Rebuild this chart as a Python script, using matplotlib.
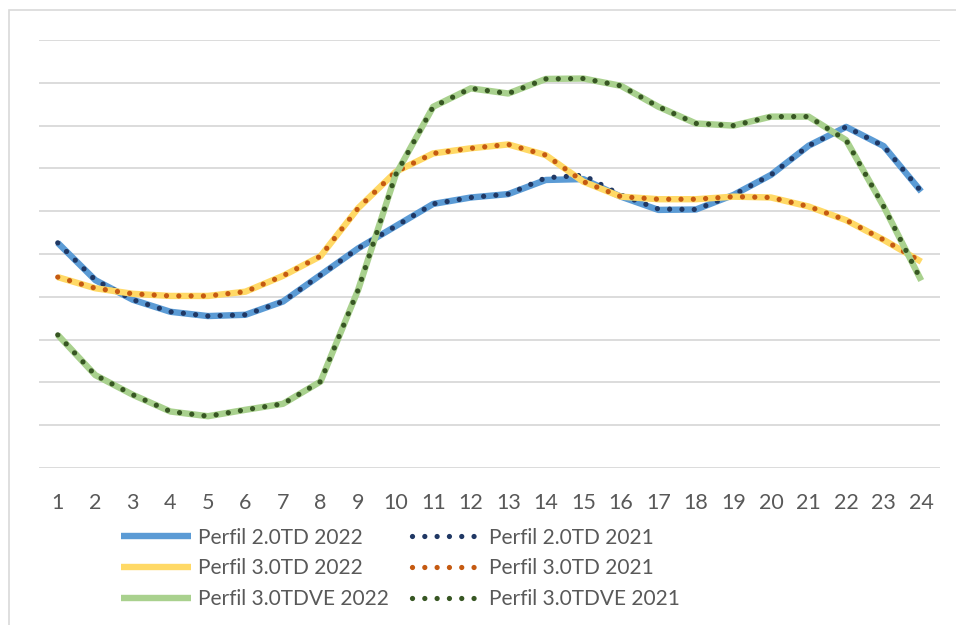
import matplotlib
matplotlib.use("Agg")
import matplotlib.pyplot as plt
from matplotlib.patches import Rectangle

hours = list(range(1, 25))
hour_labels = [str(h) for h in hours]

td20_2022 = [5.26, 4.39, 3.93, 3.65, 3.55, 3.58, 3.89, 4.51, 5.13, 5.65, 6.17, 6.32,
             6.40, 6.73, 6.75, 6.34, 6.03, 6.04, 6.38, 6.85, 7.53, 7.97, 7.52, 6.46]
td20_2021 = [5.26, 4.39, 3.93, 3.65, 3.55, 3.58, 3.89, 4.51, 5.13, 5.65, 6.17, 6.32,
             6.40, 6.78, 6.84, 6.38, 6.05, 6.04, 6.38, 6.85, 7.53, 7.97, 7.52, 6.46]
td30_2022 = [4.46, 4.20, 4.07, 4.02, 4.02, 4.12, 4.49, 4.95, 6.07, 6.92, 7.35, 7.47,
             7.56, 7.31, 6.69, 6.34, 6.28, 6.28, 6.34, 6.32, 6.11, 5.79, 5.33, 4.82]
td30_2021 = [4.46, 4.20, 4.07, 4.02, 4.02, 4.12, 4.49, 4.95, 6.07, 6.92, 7.35, 7.47,
             7.56, 7.31, 6.69, 6.34, 6.28, 6.28, 6.34, 6.32, 6.11, 5.79, 5.33, 4.82]
tdve_2022 = [3.11, 2.17, 1.71, 1.32, 1.21, 1.36, 1.50, 2.02, 4.16, 6.85, 8.44, 8.87,
             8.75, 9.09, 9.10, 8.93, 8.44, 8.05, 8.00, 8.21, 8.21, 7.66, 6.11, 4.38]
tdve_2021 = [3.11, 2.17, 1.71, 1.32, 1.21, 1.36, 1.50, 2.02, 4.16, 6.85, 8.44, 8.87,
             8.75, 9.09, 9.10, 8.93, 8.44, 8.05, 8.00, 8.21, 8.21, 7.66, 6.11, 4.38]

labels = ["Perfil 2.0TD 2022", "Perfil 2.0TD 2021", "Perfil 3.0TD 2022",
          "Perfil 3.0TD 2021", "Perfil 3.0TDVE 2022", "Perfil 3.0TDVE 2021"]

FONT = ["Lato", "DejaVu Sans"]
plt.rcParams['font.family'] = FONT
TXT = "#595959"

W, H = 956, 625
fig = plt.figure(figsize=(W / 100, H / 100), dpi=100)
fig.patches.append(Rectangle((9 / W, -0.1), 1.2, 1.1 - 10 / H, transform=fig.transFigure,
                             fill=False, edgecolor="#D9D9D9", linewidth=1.2, zorder=0))

ax = fig.add_axes([39 / W, (H - 468) / H, (940 - 39) / W, (468 - 40) / H])
ax.set_xlim(0.5, 24.5)
ax.set_ylim(0, 10)
ax.set_yticks(range(0, 11))
ax.yaxis.grid(True, color="#D9D9D9", linewidth=1.3)
ax.set_axisbelow(True)
ax.tick_params(axis='y', left=False, labelleft=False)
ax.set_xticks(hours)
ax.set_xticklabels(hour_labels)
ax.tick_params(axis='x', length=0, pad=18, labelsize=15.5, labelcolor=TXT)
for s in ax.spines.values():
    s.set_visible(False)

solid_lw = 4.6
dot_lw = 3.8
gap = 8.86 / dot_lw

def solid(y, c, lab):
    return ax.plot(hours, y, color=c, lw=solid_lw, solid_capstyle='butt',
                   solid_joinstyle='round', label=lab)[0]

def dotted(y, c, lab):
    return ax.plot(hours, y, color=c, lw=dot_lw, dashes=(0.001, gap),
                   dash_capstyle='round', label=lab)[0]

h1 = solid(td20_2022, "#5B9BD5", labels[0])
h2 = dotted(td20_2021, "#203864", labels[1])
h3 = solid(td30_2022, "#FFD966", labels[2])
h4 = dotted(td30_2021, "#C55A11", labels[3])
h5 = solid(tdve_2022, "#A9D18E", labels[4])
h6 = dotted(tdve_2021, "#375623", labels[5])

fs = 15
fpx = fs * 100 / 72
leg = fig.legend(handles=[h1, h3, h5, h2, h4, h6], ncol=2, frameon=False,
                 loc='upper left', bbox_to_anchor=(121 / W, 1 - 527.5 / H),
                 fontsize=fs, labelcolor=TXT, handlelength=70 / fpx,
                 handletextpad=7 / fpx, columnspacing=23 / fpx,
                 labelspacing=0.52, borderaxespad=0, borderpad=0)

fig.savefig("out.png", dpi=100)
